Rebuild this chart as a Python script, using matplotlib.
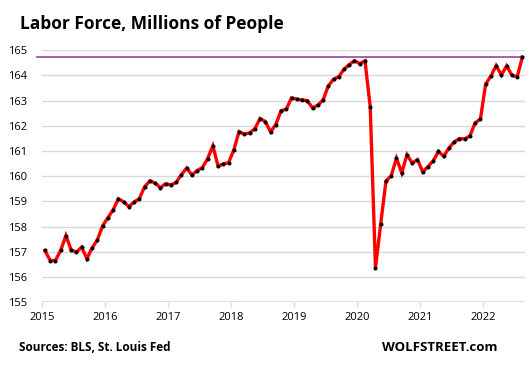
import numpy as np
import matplotlib
matplotlib.use("Agg")
import matplotlib.pyplot as plt

# Labor force, millions, monthly Jan 2015 - Aug 2022
labor = [
    157.05, 156.65, 156.65, 157.05, 157.64, 157.07, 156.98, 157.18, 156.72, 157.15, 157.47, 158.03,  # 2015
    158.35, 158.66, 159.10, 158.98, 158.79, 158.97, 159.11, 159.58, 159.81, 159.73, 159.54, 159.70,  # 2016
    159.65, 159.75, 160.06, 160.32, 160.05, 160.22, 160.34, 160.69, 161.20, 160.40, 160.49, 160.53,  # 2017
    161.04, 161.77, 161.67, 161.72, 161.88, 162.29, 162.17, 161.76, 162.05, 162.60, 162.66, 163.11,  # 2018
    163.06, 163.03, 163.00, 162.71, 162.82, 163.02, 163.58, 163.85, 163.95, 164.25, 164.43, 164.59,  # 2019
    164.47, 164.58, 162.75, 156.36, 158.11, 159.81, 160.02, 160.71, 160.13, 160.85, 160.52, 160.66,  # 2020
    160.17, 160.38, 160.61, 160.98, 160.79, 161.12, 161.36, 161.49, 161.48, 161.60, 162.12, 162.27,  # 2021
    163.66, 163.98, 164.39, 164.02, 164.38, 164.01, 163.94, 164.73,                                  # 2022
]
start_year = 2015
record = 164.75
years = list(range(2015, 2023))
yticks = list(range(155, 166))

# mid-month positions in fractional years
t = start_year + (np.arange(len(labor)) + 0.5) / 12

fig = plt.figure(figsize=(5.3, 3.67), dpi=100)
ax = fig.add_axes([0.0798, 0.177, 0.9108, 0.686])

ax.set_xlim(2015, 2022 + 8 / 12)
ax.set_ylim(155, 165)

for v in yticks[1:]:
    ax.axhline(v, color="#D9D9D9", lw=1.0, zorder=0)
ax.axhline(155, color="#D9D9D9", lw=1.2, zorder=0)

ax.axhline(record, xmin=-0.012, xmax=0.99, color="#A040A0", lw=1.2, zorder=1, clip_on=False)

ax.plot(t, labor, color="#FF0000", lw=2.4, zorder=2, solid_joinstyle="miter")
ax.plot(t, labor, "o", color="black", ms=1.9, zorder=3)

for s in ax.spines.values():
    s.set_visible(False)

ax.set_xticks(years)
ax.set_xticklabels([str(y) for y in years], fontsize=8, family="Open Sans")
ax.set_yticks(yticks)
ax.set_yticklabels([str(v) for v in yticks], fontsize=8, family="Open Sans")
ax.tick_params(axis="x", length=3.5, color="#D9D9D9", width=1, pad=4)
ax.tick_params(axis="y", length=0, pad=11)

fig.text(0.038, 0.935, "Labor Force, Millions of People", fontsize=12.5,
         fontweight="bold", family="Open Sans", va="center", ha="left")
fig.text(0.036, 0.052, "Sources: BLS, St. Louis Fed", fontsize=8.5,
         fontweight="bold", family="Open Sans", va="center", ha="left")
fig.text(0.938, 0.052, "WOLFSTREET.com", fontsize=9.5,
         fontweight="bold", family="Open Sans", va="center", ha="right")

fig.savefig("out.png", dpi=100)
